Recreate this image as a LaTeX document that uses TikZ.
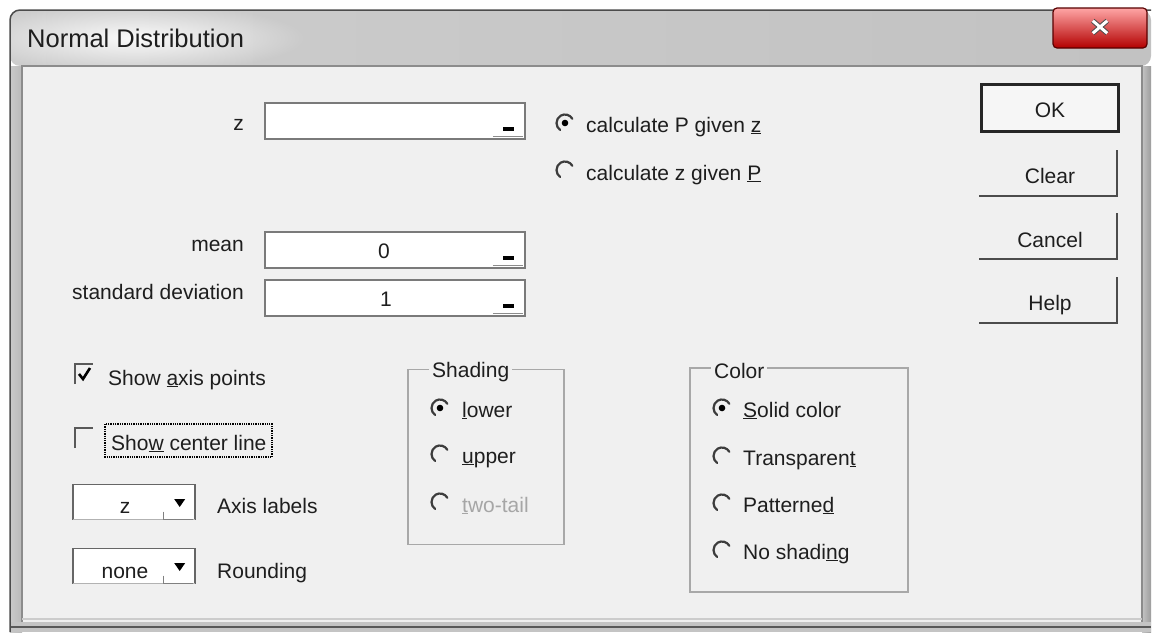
\documentclass[tikz,border=0pt]{standalone}
\usepackage{fontspec}
\setmainfont{Liberation Sans}
\usetikzlibrary{calc,fadings}
\definecolor{dlg}{HTML}{F0F0F0}
\definecolor{frm}{HTML}{C4C4C4}
\definecolor{txt}{HTML}{1E1E1E}
\definecolor{edge}{HTML}{7A7A7A}
\definecolor{grp}{HTML}{A8A8A8}
\definecolor{rad}{HTML}{3C3C3C}
\tikzfading[name=glowfade,inner color=transparent!10,outer color=transparent!100]
\tikzset{
  lbl/.style={anchor=base west,inner sep=0,text=txt},
  lble/.style={anchor=base east,inner sep=0,text=txt},
  tbox/.style={fill=white,draw=edge,line width=1.5,inner sep=0,minimum width=260,minimum height=36},
  cbox/.style={fill=white,inner sep=0,minimum width=122,minimum height=35},
  radio/.style={circle,inner sep=0,minimum size=18},
  radarc/.style={rad,line width=2.2,line cap=round},
  chk/.style={inner sep=0,minimum width=17,minimum height=20},
  btn/.style={inner sep=0,minimum width=137,minimum height=45,text=txt},
  grpframe/.style={draw=grp,line width=1.5},
  glabel/.style={anchor=base west,fill=dlg,inner xsep=3,inner ysep=2,text=txt}
}
\newcommand\radioarc[1]{\draw[radarc] ($(#1.center)+(30:8.5pt)$) arc[start angle=30,end angle=235,radius=8.5pt];}
\begin{document}
\begin{tikzpicture}[x=1pt,y=-1pt,font=\fontsize{21}{25}\selectfont]
\useasboundingbox (0,0) rectangle (1153,632);
\fill[white] (0,0) rectangle (1153,632);
% window frame
\shade[left color=frm!90!white,right color=frm!95!black] (10,66) rectangle (22,632);
\shade[left color=frm,right color=frm!80!black] (1142,66) rectangle (1151,632);
\fill[frm] (10,622) rectangle (1151,632);
\draw[black!65,line width=1.5] (10,627) -- (1151,627);
% title bar
\shade[left color=frm!85!white,middle color=black!38,right color=black!24,rounded corners=10]
  (10,66) -- (10,10) -- (1151,10) -- (1151,66) -- cycle;
\fill[white,path fading=glowfade] (135,38) ellipse (170 and 34);
\draw[black!70,line width=1.5,rounded corners=10] (10,632) -- (10,10) -- (1151,10);
\node[anchor=base west,inner sep=0,text=txt,font=\fontsize{25.5}{30}\selectfont] (title) at (27,47) {Normal Distribution};
% close button
\shade[top color=red!35!white,bottom color=red!70!black,draw=red!35!black,line width=1.2,rounded corners=4]
  (1053,8) rectangle (1147,48);
\node[inner sep=0,minimum width=14,minimum height=12] (xbtn) at (1100,27) {};
\draw[black!70,line width=5] (xbtn.north west) -- (xbtn.south east) (xbtn.south west) -- (xbtn.north east);
\draw[white,line width=3] (xbtn.north west) -- (xbtn.south east) (xbtn.south west) -- (xbtn.north east);
% client area
\fill[dlg] (22,66) rectangle (1142,622);
\draw[black!45,line width=1.2] (22,622) -- (22,66) -- (1142,66) -- (1142,622);
\draw[black!20,line width=1.2] (22,619) -- (1142,619);

% z field
\node[lble] (zl) at (244,130) {z};
\node[tbox] (zbox) at (395,121) {};
\fill[black] ($(zbox.east)+(-23,6)$) rectangle +(11,4);
\draw[black!45,line width=1.2] ($(zbox.south east)+(-33,-3)$) -- +(30,0);
% radios P/z
\node[radio] (r1) at (565,123) {};
\radioarc{r1}
\fill[black] (r1.center) circle (3.3);
\node[lbl] (t1) at (586,132) {calculate P given \underline{z}};
\node[radio] (r2) at (565,170) {};
\radioarc{r2}
\node[lbl] (t2) at (586,180) {calculate z given \underline{P}};

% mean / sd
\node[lble] (ml) at (244,251) {mean};
\node[tbox] (mbox) at (395,250) {};
\node[anchor=base,inner sep=0,text=txt] (mv) at (384,258) {0};
\fill[black] ($(mbox.east)+(-23,6)$) rectangle +(11,4);
\draw[black!45,line width=1.2] ($(mbox.south east)+(-33,-3)$) -- +(30,0);
\node[lble] (sl) at (244,299) {standard deviation};
\node[tbox] (sbox) at (395,298) {};
\node[anchor=base,inner sep=0,text=txt] (sv) at (386,306) {1};
\fill[black] ($(sbox.east)+(-23,6)$) rectangle +(11,4);
\draw[black!45,line width=1.2] ($(sbox.south east)+(-33,-3)$) -- +(30,0);

% buttons
\node[btn,fill=dlg!60!white,draw=black!85,line width=2.2,minimum height=47] (ok) at (1050,108) {};
\node[lbl,anchor=base] (okt) at (1050,117) {OK};
\node[btn] (clr) at (1048,173) {};
\draw[black!70,line width=2] (clr.north east) -- (clr.south east) -- (clr.south west);
\node[lbl,anchor=base] (clrt) at (1050,183) {Clear};
\node[btn] (can) at (1048,236) {};
\draw[black!70,line width=2] (can.north east) -- (can.south east) -- (can.south west);
\node[lbl,anchor=base] (cant) at (1050,247) {Cancel};
\node[btn] (hlp) at (1048,300) {};
\draw[black!70,line width=2] (hlp.north east) -- (hlp.south east) -- (hlp.south west);
\node[lbl,anchor=base] (hlpt) at (1050,310) {Help};

% checkboxes
\node[chk] (cb1) at (84,374) {};
\draw[black!65,line width=1.8] (cb1.south west) -- (cb1.north west) -- (cb1.north east);
\draw[black,line width=2.6] ($(cb1.center)+(-5,0)$) -- ($(cb1.center)+(-1,5)$) -- ($(cb1.center)+(6,-6)$);
\node[lbl] (cb1t) at (108,385) {Show \underline{a}xis points};
\node[chk] (cb2) at (84,438) {};
\draw[black!65,line width=1.8] (cb2.south west) -- (cb2.north west) -- (cb2.north east);
\node[lbl] (cb2t) at (111,450) {Sho\underline{w} center line};
\draw[black,densely dotted,line width=1.3] (105,424) rectangle (272,457);

% combos
\node[cbox] (c1) at (134,502) {};
\draw[black!60,line width=1.5] (c1.south west) -- (c1.north west) -- (c1.north east) -- (c1.south east);
\draw[black!30,line width=1.2] (c1.south west) -- (c1.south east);
\draw[black!50,line width=1.2] ($(c1.south east)+(-32,-8)$) -- ($(c1.south east)+(-32,0)$) -- ($(c1.south east)+(-2,0)$);
\fill[black] ($(c1.east)+(-21,-3)$) -- ++(11,0) -- ++(-5.5,8) -- cycle;
\node[anchor=base,inner sep=0,text=txt] (c1t) at (125,513) {z};
\node[lbl] (c1l) at (217,513) {Axis labels};
\node[cbox] (c2) at (134,566) {};
\draw[black!60,line width=1.5] (c2.south west) -- (c2.north west) -- (c2.north east) -- (c2.south east);
\draw[black!30,line width=1.2] (c2.south west) -- (c2.south east);
\draw[black!50,line width=1.2] ($(c2.south east)+(-32,-8)$) -- ($(c2.south east)+(-32,0)$) -- ($(c2.south east)+(-2,0)$);
\fill[black] ($(c2.east)+(-21,-3)$) -- ++(11,0) -- ++(-5.5,8) -- cycle;
\node[anchor=base,inner sep=0,text=txt] (c2t) at (125,578) {none};
\node[lbl] (c2l) at (217,578) {Rounding};

% Shading group
\node[inner sep=0,minimum width=156,minimum height=175] (sg) at (486,457) {};
\draw[grpframe] (sg.north west) rectangle (sg.south east);
\node[glabel] (sgl) at (429,377) {Shading};
\node[radio] (s1) at (440,408) {};
\radioarc{s1}
\fill[black] (s1.center) circle (3.3);
\node[lbl] (s1t) at (462,417) {\underline{l}ower};
\node[radio] (s2) at (440,454) {};
\radioarc{s2}
\node[lbl] (s2t) at (462,463) {\underline{u}pper};
\node[radio] (s3) at (440,502) {};
\radioarc{s3}
\node[lbl,text=black!35] (s3t) at (462,512) {\underline{t}wo-tail};

% Color group
\node[inner sep=0,minimum width=218,minimum height=224] (cg) at (799,480) {};
\draw[grpframe] (cg.north west) rectangle (cg.south east);
\node[glabel] (cgl) at (711,378) {Color};
\node[radio] (k1) at (722,408) {};
\radioarc{k1}
\fill[black] (k1.center) circle (3.3);
\node[lbl] (k1t) at (743,417) {\underline{S}olid color};
\node[radio] (k2) at (722,456) {};
\radioarc{k2}
\node[lbl] (k2t) at (743,465) {Transparen\underline{t}};
\node[radio] (k3) at (722,503) {};
\radioarc{k3}
\node[lbl] (k3t) at (743,512) {Patterne\underline{d}};
\node[radio] (k4) at (722,550) {};
\radioarc{k4}
\node[lbl] (k4t) at (743,559) {No shadi\underline{n}g};
\end{tikzpicture}
\end{document}
